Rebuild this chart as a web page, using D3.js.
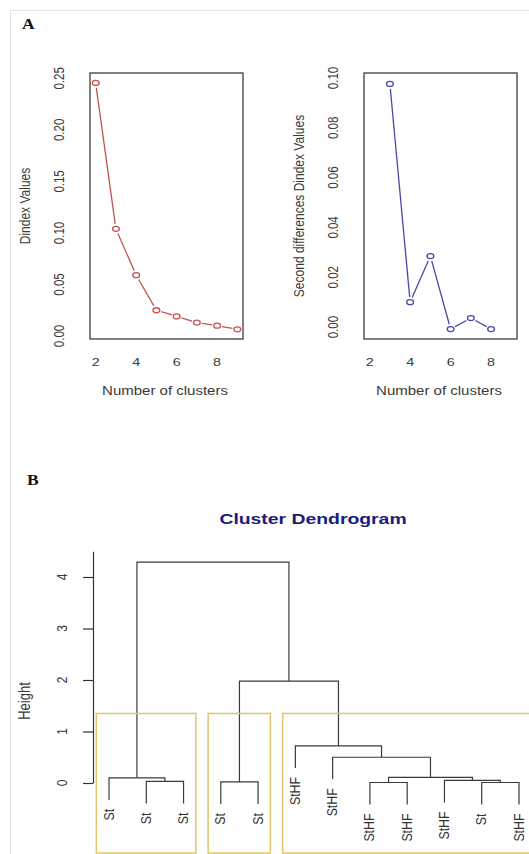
<!DOCTYPE html>
<meta charset="utf-8">
<script src="https://d3js.org/d3.v7.min.js"></script>
<style>
body { margin: 0; background: #fff; }
text { font-family: "Liberation Sans", Arial, sans-serif; fill: #3a3a3a; }
</style>
<div id="chart"></div>
<script>
// ---- panel A data ----
var kDindex = [2, 3, 4, 5, 6, 7, 8, 9];
var dindexValues = [0.2456, 0.104, 0.059, 0.025, 0.019, 0.013, 0.010, 0.0065];
var kSecond = [3, 4, 5, 6, 7, 8];
var secondDiffValues = [0.0976, 0.010, 0.0285, -0.0008, 0.0036, -0.0008];
var kTicks = [2, 4, 6, 8];
var dindexTicks = [0, 0.05, 0.10, 0.15, 0.20, 0.25];
var secondTicks = [0, 0.02, 0.04, 0.06, 0.08, 0.10];

// ---- panel B data (hclust style merges, negative = leaf index) ----
var leafLabels = ["St", "St", "St", "St", "St", "StHF", "StHF", "StHF", "StHF", "StHF", "St", "StHF"];
var mergeLeft  = [-2, -1, -4, -8, -11, -10, 4, -7, -6, 3, 2];
var mergeRight = [-3,  1, -5, -9, -12,   5, 6,  7,  8, 9, 10];
var mergeHeight = [0.03, 0.10, 0.02, 0.01, 0.01, 0.05, 0.11, 0.50, 0.72, 1.98, 4.29];
var heightTicks = [0, 1, 2, 3, 4];
var nClusters = 3;

var W = 529, H = 854;
var sx = 1.25; // the figure is a bit stretched sideways

var svg = d3.select("#chart").append("svg")
  .attr("width", W).attr("height", H);

// light frame round the figure
svg.append("rect")
  .attr("x", 10.5).attr("y", 10.5).attr("width", W + 20).attr("height", H + 20)
  .attr("fill", "none").attr("stroke", "#e2e2e2");

function hText(x, y, str, size, anchor) {
  return svg.append("text")
    .attr("transform", "translate(" + x + "," + y + ") scale(" + sx + ",1)")
    .attr("text-anchor", anchor || "middle")
    .style("font-size", size + "px")
    .text(str);
}
function vText(x, y, str, size, anchor) {
  return svg.append("text")
    .attr("transform", "translate(" + x + "," + y + ") scale(" + sx + ",1) rotate(-90)")
    .attr("text-anchor", anchor || "middle")
    .style("font-size", size + "px")
    .text(str);
}

// panel letters
hText(22, 29, "A", 14, "start").style("font-family", "'Liberation Serif', serif").style("font-weight", "bold").style("fill", "#111");
hText(27, 485, "B", 14, "start").style("font-family", "'Liberation Serif', serif").style("font-weight", "bold").style("fill", "#111");

// ---- index plots ----
function indexPlot(opt) {
  var x = d3.scaleLinear().domain([1.72, 9.28]).range([opt.left, opt.left + 153]);
  var y = d3.scaleLinear().domain(opt.yDomain).range([339, 73]);

  svg.append("rect")
    .attr("x", opt.left).attr("y", 73)
    .attr("width", 153).attr("height", 266)
    .attr("fill", "none").attr("stroke", "#4a4a4a").attr("stroke-width", 1.4);

  opt.yTicks.forEach(function(t) {
    vText(opt.left - 26, y(t), d3.format(".2f")(t), 11.5);
  });
  kTicks.forEach(function(t) {
    hText(x(t), 366, t, 11.5);
  });
  hText(opt.left + 75, 395, "Number of clusters", 12);
  vText(opt.left - 60, 206, opt.ylab, 12);

  var pts = opt.k.map(function(k, i) { return [x(k), y(opt.v[i])]; });
  var gap = 5;
  for (var i = 0; i < pts.length - 1; i++) {
    var a = pts[i], b = pts[i + 1];
    var dx = b[0] - a[0], dy = b[1] - a[1], len = Math.sqrt(dx * dx + dy * dy);
    if (len <= 2 * gap) continue;
    var ux = dx / len, uy = dy / len;
    svg.append("line")
      .attr("x1", a[0] + ux * gap).attr("y1", a[1] + uy * gap)
      .attr("x2", b[0] - ux * gap).attr("y2", b[1] - uy * gap)
      .attr("stroke", opt.color).attr("stroke-width", 1.3);
  }
  svg.selectAll(null).data(pts).enter().append("ellipse")
    .attr("cx", function(d) { return d[0]; })
    .attr("cy", function(d) { return d[1]; })
    .attr("rx", 3.4).attr("ry", 2.5)
    .attr("fill", "none").attr("stroke", opt.color).attr("stroke-width", 1.3);
}

indexPlot({ left: 90, k: kDindex, v: dindexValues, yDomain: [-0.0029, 0.2552],
  yTicks: dindexTicks, ylab: "Dindex Values", color: "#c25454" });
indexPlot({ left: 364, k: kSecond, v: secondDiffValues, yDomain: [-0.0048, 0.102],
  yTicks: secondTicks, ylab: "Second differences Dindex Values", color: "#4848aa" });

// ---- dendrogram ----
hText(313, 524, "Cluster Dendrogram", 15.5)
  .style("font-weight", "bold").style("fill", "#1c1c7a");

var yH = d3.scaleLinear().domain([0, 4.5]).range([783, 783 - 4.5 * 51.5]);
var xLeaf = d3.scaleLinear().domain([1, leafLabels.length]).range([109, 519]);
var step = xLeaf(2) - xLeaf(1);
var hang = 0.1 * d3.max(mergeHeight);
var dendBottom = 853;

svg.append("g")
  .attr("transform", "translate(93,0)")
  .call(d3.axisLeft(yH).tickValues(heightTicks).tickSize(10).tickSizeOuter(0).tickFormat(""))
  .call(function(g) {
    g.selectAll("path, line").attr("stroke", "#333").attr("stroke-width", 1.2);
  });
heightTicks.forEach(function(t) { vText(67, yH(t), t, 12); });
vText(30, 701, "Height", 13);

// node positions
var nodeX = [], leafEnd = {};
function posOf(id) { return id < 0 ? xLeaf(-id) : nodeX[id - 1]; }
mergeHeight.forEach(function(h, i) {
  nodeX[i] = (posOf(mergeLeft[i]) + posOf(mergeRight[i])) / 2;
});
function bottomOf(id, h) {
  if (id < 0) { leafEnd[-id] = h - hang; return h - hang; }
  return mergeHeight[id - 1];
}

var dend = svg.append("g")
  .attr("fill", "none").attr("stroke", "#3a3a3a").attr("stroke-width", 1.2);
mergeHeight.forEach(function(h, i) {
  var l = mergeLeft[i], r = mergeRight[i];
  var p = d3.path();
  p.moveTo(posOf(l), yH(bottomOf(l, h)));
  p.lineTo(posOf(l), yH(h));
  p.lineTo(posOf(r), yH(h));
  p.lineTo(posOf(r), yH(bottomOf(r, h)));
  dend.append("path").attr("d", p.toString());
});

leafLabels.forEach(function(lab, i) {
  vText(xLeaf(i + 1) + 4.5, yH(leafEnd[i + 1]) + 9, lab, 12.3, "end").style("fill", "#333");
});

// cluster boxes (rect.hclust with k = nClusters)
function leavesOf(id) {
  if (id < 0) return [-id];
  return leavesOf(mergeLeft[id - 1]).concat(leavesOf(mergeRight[id - 1]));
}
var cut = mergeHeight.length - (nClusters - 1);
var groups = [];
for (var m = mergeHeight.length; m > cut; m--) {
  [mergeLeft[m - 1], mergeRight[m - 1]].forEach(function(c) {
    if (c < 0 || c <= cut) groups.push(leavesOf(c));
  });
}
var sortedH = mergeHeight.slice().sort(d3.descending);
var boxTop = (sortedH[nClusters - 2] + sortedH[nClusters - 1]) / 2;
groups.forEach(function(g) {
  var x0 = xLeaf(d3.min(g)) - 0.34 * step, x1 = xLeaf(d3.max(g)) + 0.33 * step;
  svg.append("rect")
    .attr("x", x0).attr("y", yH(boxTop))
    .attr("width", x1 - x0).attr("height", dendBottom - yH(boxTop))
    .attr("fill", "none").attr("stroke", "#e3c36e").attr("stroke-width", 1.5);
});
</script>
